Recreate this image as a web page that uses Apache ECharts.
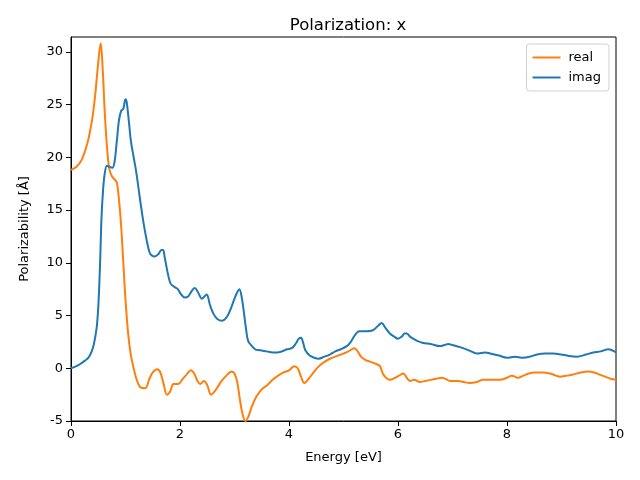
<!DOCTYPE html>
<html>
<head>
<meta charset="utf-8">
<script src="https://cdn.jsdelivr.net/npm/echarts@6/dist/echarts.min.js"></script>
<style>html,body{margin:0;padding:0;background:#fff}#c{width:640px;height:480px}</style>
</head>
<body>
<div id="c"></div>
<script>
const xTicks = [0, 2, 4, 6, 8, 10];
const yTicks = [-5, 0, 5, 10, 15, 20, 25, 30];
const energyReal = [0,0.1,0.2,0.3,0.35,0.4,0.45,0.5,0.545,0.58,0.62,0.66,0.70,0.75,0.80,0.84,0.88,0.92,0.96,1.0,1.05,1.1,1.15,1.2,1.27,1.36,1.44,1.5,1.58,1.64,1.70,1.76,1.82,1.88,1.97,2.05,2.12,2.2,2.26,2.32,2.37,2.44,2.5,2.57,2.65,2.75,2.85,2.95,3.0,3.05,3.1,3.15,3.2,3.26,3.32,3.4,3.5,3.6,3.7,3.8,3.9,4.0,4.1,4.16,4.22,4.28,4.36,4.45,4.55,4.65,4.75,4.85,4.95,5.05,5.12,5.2,5.26,5.32,5.4,5.5,5.6,5.67,5.72,5.78,5.85,5.95,6.05,6.1,6.16,6.22,6.3,6.4,6.5,6.6,6.7,6.8,6.87,6.95,7.1,7.2,7.32,7.45,7.56,7.7,7.87,8.0,8.09,8.2,8.3,8.4,8.51,8.65,8.79,8.9,8.97,9.1,9.21,9.35,9.49,9.6,9.7,9.8,9.9,10.0];
const real = [18.8,19.1,19.8,21.3,22.5,24.0,26.2,29.0,30.8,28.5,24.2,21.0,19.0,18.2,17.9,17.6,16.0,13.5,10.0,6.5,3.2,1.2,0.0,-1.0,-1.8,-1.9,-1.0,-0.4,-0.1,-0.4,-1.5,-2.5,-2.2,-1.5,-1.5,-1.0,-0.6,-0.2,-0.5,-1.2,-1.5,-1.2,-1.6,-2.5,-2.1,-1.3,-0.7,-0.3,-0.5,-1.3,-3.0,-4.4,-5.0,-4.5,-3.6,-2.7,-2.0,-1.6,-1.1,-0.7,-0.4,-0.2,0.2,0.0,-0.8,-1.4,-1.0,-0.4,0.2,0.6,0.9,1.1,1.3,1.5,1.7,1.9,1.6,1.1,0.8,0.6,0.4,0.2,-0.5,-0.9,-1.1,-0.9,-0.6,-0.5,-0.9,-1.2,-1.1,-1.3,-1.2,-1.1,-1.0,-0.9,-1.0,-1.2,-1.2,-1.3,-1.4,-1.3,-1.1,-1.1,-1.1,-0.9,-0.7,-0.9,-0.7,-0.5,-0.4,-0.4,-0.5,-0.7,-0.8,-0.7,-0.6,-0.4,-0.3,-0.4,-0.6,-0.8,-1.0,-1.1];
const energyImag = [0,0.1,0.17,0.25,0.32,0.38,0.42,0.47,0.5,0.52,0.54,0.56,0.59,0.62,0.66,0.70,0.76,0.80,0.84,0.88,0.92,0.96,1.0,1.02,1.06,1.1,1.15,1.2,1.27,1.33,1.39,1.44,1.48,1.54,1.6,1.66,1.69,1.72,1.78,1.83,1.9,1.96,2.02,2.09,2.15,2.2,2.27,2.33,2.4,2.45,2.49,2.55,2.61,2.68,2.77,2.85,2.92,3.0,3.05,3.09,3.13,3.17,3.21,3.25,3.32,3.38,3.47,3.59,3.7,3.78,3.87,3.96,4.05,4.12,4.18,4.22,4.26,4.3,4.38,4.46,4.54,4.65,4.75,4.85,4.95,5.06,5.12,5.18,5.25,5.30,5.42,5.54,5.63,5.70,5.76,5.85,5.93,6.0,6.07,6.12,6.16,6.22,6.28,6.35,6.46,6.6,6.77,6.85,6.92,7.0,7.14,7.3,7.45,7.6,7.69,7.85,8.0,8.15,8.29,8.42,8.55,8.7,8.85,9.0,9.1,9.28,9.45,9.58,9.72,9.86,9.93,10.0];
const imag = [0.0,0.2,0.4,0.7,1.0,1.6,2.3,3.8,5.8,8.0,11.0,14.3,17.0,18.5,19.2,19.1,19.0,19.6,21.5,23.5,24.4,24.6,25.5,25.3,23.5,21.5,20.0,18.5,15.9,13.8,12.1,11.0,10.7,10.6,10.8,11.2,11.2,10.5,8.9,8.0,7.7,7.5,7.0,6.7,6.8,7.2,7.6,7.2,6.6,6.8,7.0,6.0,5.2,4.7,4.5,4.8,5.5,6.6,7.2,7.5,6.8,5.4,3.8,2.6,2.1,1.8,1.7,1.6,1.5,1.5,1.6,1.8,1.9,2.3,2.8,2.9,2.4,1.7,1.2,1.0,0.9,1.1,1.3,1.6,1.8,2.1,2.4,2.9,3.4,3.5,3.5,3.6,4.0,4.3,3.9,3.3,3.0,2.8,3.0,3.3,3.3,3.0,2.8,2.6,2.4,2.3,2.1,2.2,2.3,2.2,2.0,1.7,1.4,1.5,1.4,1.2,1.0,1.1,1.0,1.1,1.3,1.4,1.4,1.3,1.2,1.1,1.3,1.5,1.6,1.8,1.7,1.5];

const zip = (xs, ys) => xs.map((x, i) => [x, ys[i]]);
const font = 'DejaVu Sans';
const chart = echarts.init(document.getElementById('c'));
chart.setOption({
  animation: false,
  backgroundColor: '#fff',
  title: {
    text: 'Polarization: x', left: 343, top: 12, textAlign: 'center',
    textStyle: { fontFamily: font, fontSize: 16.5, fontWeight: 'normal', color: '#000' }
  },
  legend: {
    right: 31, top: 44, orient: 'vertical', itemGap: 7, itemWidth: 28, itemHeight: 2,
    icon: 'rect', borderColor: '#d0d0d0', borderWidth: 1, borderRadius: 3,
    padding: [7, 8, 7, 6],
    textStyle: { fontFamily: font, fontSize: 13, color: '#000', padding: [0, 0, 0, 3] },
    data: ['real', 'imag']
  },
  grid: { left: 71, right: 24, top: 37, bottom: 59, show: true, borderColor: '#000', borderWidth: 1 },
  xAxis: {
    type: 'value', min: 0, max: 10, interval: 2,
    name: 'Energy [eV]', nameLocation: 'middle', nameGap: 30,
    nameTextStyle: { fontFamily: font, fontSize: 13, color: '#000' },
    axisLine: { show: true, onZero: false, lineStyle: { color: '#000' } },
    axisTick: { show: true, length: 5, lineStyle: { color: '#000' } },
    axisLabel: { fontFamily: font, fontSize: 13, color: '#000', margin: 7 },
    splitLine: { show: false }
  },
  yAxis: {
    type: 'value', min: -5, max: 31.4, interval: 5,
    name: 'Polarizability [Å]', nameLocation: 'middle', nameGap: 40,
    nameTextStyle: { fontFamily: font, fontSize: 13, color: '#000' },
    axisLine: { show: true, onZero: false, lineStyle: { color: '#000' } },
    axisTick: { show: true, length: 5, lineStyle: { color: '#000' } },
    axisLabel: { fontFamily: font, fontSize: 13, color: '#000', margin: 8, showMaxLabel: false },
    splitLine: { show: false }
  },
  series: [
    { name: 'real', type: 'line', data: zip(energyReal, real), showSymbol: false, symbol: 'none',
      smooth: 0.35, lineStyle: { color: '#ff7f0e', width: 2 }, itemStyle: { color: '#ff7f0e' }, z: 2 },
    { name: 'imag', type: 'line', data: zip(energyImag, imag), showSymbol: false, symbol: 'none',
      smooth: 0.35, lineStyle: { color: '#1f77b4', width: 2 }, itemStyle: { color: '#1f77b4' }, z: 3 }
  ]
});
</script>
</body>
</html>
